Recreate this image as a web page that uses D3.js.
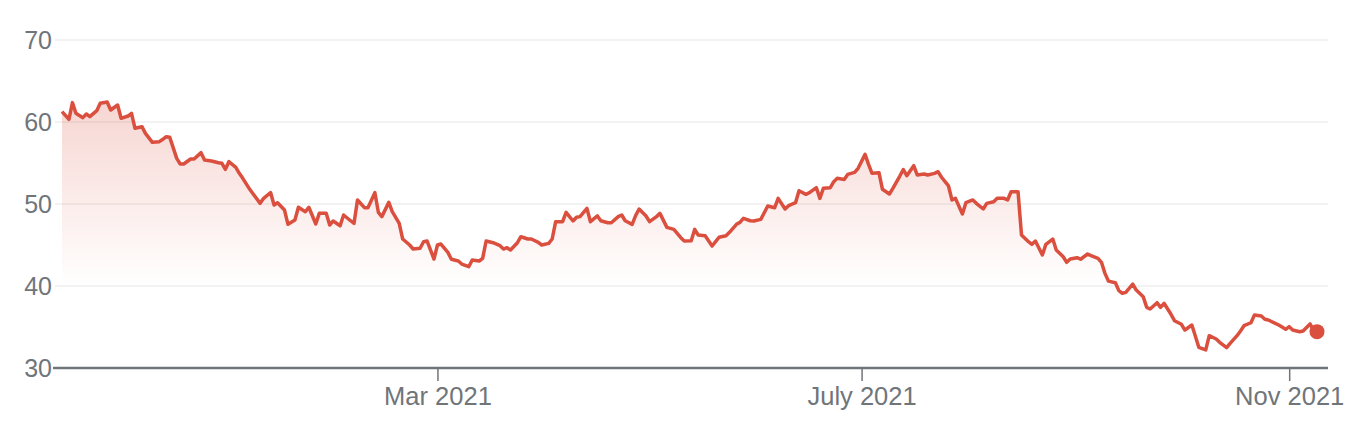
<!DOCTYPE html>
<meta charset="utf-8">
<script src="https://d3js.org/d3.v7.min.js"></script>
<style>
  body { margin: 0; background: #fff; }
  text { font-family: 'Liberation Sans', Arial, sans-serif; }
</style>
<body>
<div id="chart"></div>
<script>

// closing prices
var dates = [
  "2020-11-13","2020-11-15","2020-11-16","2020-11-17","2020-11-19","2020-11-20","2020-11-21","2020-11-23","2020-11-24","2020-11-26",
  "2020-11-27","2020-11-29","2020-11-30","2020-12-02","2020-12-03","2020-12-04","2020-12-06","2020-12-07","2020-12-09","2020-12-11",
  "2020-12-12","2020-12-13","2020-12-14","2020-12-16","2020-12-17","2020-12-18","2020-12-20","2020-12-21","2020-12-23","2020-12-24",
  "2020-12-26","2020-12-28","2020-12-29","2020-12-30","2020-12-31","2021-01-02","2021-01-03","2021-01-04","2021-01-06","2021-01-07",
  "2021-01-09","2021-01-10","2021-01-12","2021-01-13","2021-01-14","2021-01-16","2021-01-17","2021-01-19","2021-01-20","2021-01-22",
  "2021-01-23","2021-01-25","2021-01-26","2021-01-28","2021-01-29","2021-01-30","2021-02-01","2021-02-02","2021-02-04","2021-02-05",
  "2021-02-06","2021-02-08","2021-02-09","2021-02-11","2021-02-12","2021-02-13","2021-02-15","2021-02-16","2021-02-18","2021-02-19",
  "2021-02-21","2021-02-22","2021-02-24","2021-02-25","2021-02-26","2021-02-28","2021-03-01","2021-03-02","2021-03-04","2021-03-05",
  "2021-03-07","2021-03-08","2021-03-10","2021-03-11","2021-03-13","2021-03-14","2021-03-15","2021-03-17","2021-03-19","2021-03-20",
  "2021-03-21","2021-03-22","2021-03-24","2021-03-25","2021-03-27","2021-03-28","2021-03-30","2021-03-31","2021-04-02","2021-04-03",
  "2021-04-04","2021-04-06","2021-04-07","2021-04-09","2021-04-10","2021-04-11","2021-04-13","2021-04-14","2021-04-16","2021-04-17",
  "2021-04-19","2021-04-20","2021-04-22","2021-04-23","2021-04-24","2021-04-26","2021-04-27","2021-04-28","2021-04-30","2021-05-01",
  "2021-05-03","2021-05-04","2021-05-06","2021-05-07","2021-05-08","2021-05-10","2021-05-11","2021-05-13","2021-05-14","2021-05-15",
  "2021-05-17","2021-05-19","2021-05-20","2021-05-21","2021-05-23","2021-05-24","2021-05-26","2021-05-27","2021-05-28","2021-05-30",
  "2021-05-31","2021-06-02","2021-06-03","2021-06-04","2021-06-06","2021-06-07","2021-06-09","2021-06-10","2021-06-12","2021-06-13",
  "2021-06-15","2021-06-16","2021-06-18","2021-06-19","2021-06-20","2021-06-22","2021-06-23","2021-06-24","2021-06-26","2021-06-27",
  "2021-06-29","2021-06-30","2021-07-02","2021-07-03","2021-07-04","2021-07-06","2021-07-07","2021-07-09","2021-07-10","2021-07-12",
  "2021-07-13","2021-07-14","2021-07-16","2021-07-17","2021-07-19","2021-07-20","2021-07-22","2021-07-23","2021-07-24","2021-07-26",
  "2021-07-27","2021-07-28","2021-07-30","2021-07-31","2021-08-02","2021-08-03","2021-08-05","2021-08-06","2021-08-08","2021-08-09",
  "2021-08-11","2021-08-12","2021-08-13","2021-08-15","2021-08-16","2021-08-18","2021-08-19","2021-08-20","2021-08-22","2021-08-23",
  "2021-08-25","2021-08-26","2021-08-28","2021-08-29","2021-08-30","2021-09-01","2021-09-02","2021-09-04","2021-09-05","2021-09-07",
  "2021-09-08","2021-09-09","2021-09-10","2021-09-12","2021-09-13","2021-09-14","2021-09-15","2021-09-17","2021-09-18","2021-09-20",
  "2021-09-21","2021-09-22","2021-09-24","2021-09-25","2021-09-26","2021-09-28","2021-09-29","2021-10-01","2021-10-02","2021-10-04",
  "2021-10-05","2021-10-06","2021-10-08","2021-10-09","2021-10-11","2021-10-12","2021-10-14","2021-10-15","2021-10-17","2021-10-18",
  "2021-10-19","2021-10-21","2021-10-22","2021-10-24","2021-10-25","2021-10-26","2021-10-28","2021-10-29","2021-10-31","2021-11-01",
  "2021-11-02","2021-11-04","2021-11-05","2021-11-07","2021-11-08","2021-11-09"
]

var prices = [
  61.26,60.33,62.36,61.06,60.53,60.98,60.65,61.38,62.28,62.44,
  61.46,62.07,60.45,60.73,61.06,59.23,59.43,58.62,57.52,57.60,
  57.89,58.21,58.13,55.57,54.88,54.88,55.49,55.49,56.26,55.37,
  55.24,55.04,54.96,54.23,55.16,54.48,53.74,53.13,51.79,51.22,
  50.08,50.69,51.40,49.88,50.16,49.27,47.52,48.05,49.60,49.06,
  49.60,47.56,48.86,48.86,47.44,47.93,47.35,48.66,47.96,47.64,
  50.49,49.55,49.55,51.38,48.99,48.46,50.20,49.06,47.64,45.73,
  45.00,44.51,44.60,45.40,45.49,43.29,45.00,45.12,44.10,43.26,
  43.05,42.68,42.35,43.17,43.05,43.37,45.49,45.28,44.92,44.51,
  44.67,44.39,45.28,46.01,45.73,45.73,45.33,45.00,45.20,45.73,
  47.84,47.84,48.99,47.93,48.38,48.46,49.47,47.84,48.54,47.96,
  47.72,47.72,48.46,48.66,47.96,47.52,48.58,49.39,48.54,47.84,
  48.46,48.86,47.15,47.03,46.91,45.89,45.49,45.52,46.91,46.22,
  46.13,44.88,45.40,45.94,46.13,46.55,47.52,47.76,48.25,47.96,
  47.93,48.13,48.94,49.76,49.55,50.69,49.39,49.80,50.16,51.62,
  51.18,51.38,51.99,50.69,51.91,51.99,52.72,53.13,53.00,53.61,
  53.85,54.35,56.05,54.84,53.74,53.82,51.79,51.22,51.91,53.41,
  54.21,53.45,54.67,53.54,53.66,53.54,53.74,53.94,53.26,52.20,
  50.49,50.69,48.78,50.16,50.49,50.08,49.39,50.08,50.28,50.69,
  50.69,50.49,51.50,51.50,46.22,45.40,45.08,45.49,43.78,45.08,
  45.73,44.39,43.57,42.89,43.29,43.45,43.26,43.90,43.70,43.37,
  42.89,41.54,40.60,40.40,39.43,39.11,39.23,40.24,39.51,38.70,
  37.40,37.20,37.96,37.40,37.89,36.55,35.77,35.33,34.63,35.24,
  33.90,32.52,32.20,33.94,33.54,33.13,32.48,33.00,33.94,34.51,
  35.16,35.52,36.46,36.34,35.94,35.85,35.45,35.24,34.72,35.04,
  34.63,34.43,34.51,35.37,34.63,34.43
]

var yTicks = [30, 40, 50, 60, 70]
var xTickDates = ["2021-03-01", "2021-07-01", "2021-11-01"]
var xTickLabels = ["Mar 2021", "July 2021", "Nov 2021"]

var width = 1372,
    height = 430,
    plotLeft = 53,
    plotRight = 1328,
    plotTop = 40,
    plotBottom = 368

var lineColor = "#da4f3e",
    textColor = "#70757a"

var parse = d3.timeParse("%Y-%m-%d")
var data = dates.map(function(d, i) { return { date: parse(d), value: prices[i] } })

var svg = d3.select("#chart")
  .append("svg")
    .attr("width", width)
    .attr("height", height)

var x = d3.scaleTime()
  .domain(d3.extent(data, function(d) { return d.date }))
  .range([plotLeft + 9, plotRight - 11])

var y = d3.scaleLinear()
  .domain([30, 70])
  .range([plotBottom, plotTop])

var grad = svg.append("defs")
  .append("linearGradient")
    .attr("id", "fade")
    .attr("gradientUnits", "userSpaceOnUse")
    .attr("x1", 0).attr("x2", 0)
    .attr("y1", y(63)).attr("y2", y(40))
grad.append("stop").attr("offset", 0).attr("stop-color", lineColor).attr("stop-opacity", 0.24)
grad.append("stop").attr("offset", 1).attr("stop-color", lineColor).attr("stop-opacity", 0)

// gridlines
svg.selectAll("grid")
  .data(yTicks.slice(1))
  .enter()
  .append("line")
    .attr("x1", plotLeft + 2)
    .attr("x2", plotRight)
    .attr("y1", function(d) { return y(d) })
    .attr("y2", function(d) { return y(d) })
    .attr("stroke", "#f2f2f2")
    .attr("stroke-width", 2)

svg.selectAll("ylabels")
  .data(yTicks)
  .enter()
  .append("text")
    .attr("x", plotLeft - 1)
    .attr("y", function(d) { return y(d) })
    .attr("dy", "0.36em")
    .attr("text-anchor", "end")
    .attr("fill", textColor)
    .style("font-size", "25px")
    .text(function(d) { return d })

var area = d3.area()
  .x(function(d) { return x(d.date) })
  .y0(y(40))
  .y1(function(d) { return y(d.value) })

svg.append("path")
  .datum(data)
  .attr("d", area)
  .attr("fill", "url(#fade)")

// x axis
var xAxis = d3.axisBottom(x)
  .tickValues(xTickDates.map(parse))
  .tickFormat(function(d, i) { return xTickLabels[i] })
  .tickSize(13)
  .tickPadding(6)

var gx = svg.append("g")
  .attr("transform", "translate(0," + plotBottom + ")")
  .call(xAxis)

gx.select(".domain").remove()
gx.selectAll(".tick line").attr("stroke", textColor).attr("stroke-width", 1.5)
gx.selectAll(".tick text")
  .attr("fill", textColor)
  .style("font-size", "25.5px")
  .style("font-family", "'Liberation Sans', Arial, sans-serif")

svg.append("line")
  .attr("x1", plotLeft)
  .attr("x2", plotRight)
  .attr("y1", plotBottom)
  .attr("y2", plotBottom)
  .attr("stroke", textColor)
  .attr("stroke-width", 2.5)

var line = d3.line()
  .x(function(d) { return x(d.date) })
  .y(function(d) { return y(d.value) })

svg.append("path")
  .datum(data)
  .attr("d", line)
  .attr("fill", "none")
  .attr("stroke", lineColor)
  .attr("stroke-width", 3.5)
  .attr("stroke-linejoin", "round")

var last = data[data.length - 1]
svg.append("circle")
  .attr("cx", x(last.date))
  .attr("cy", y(last.value))
  .attr("r", 7.5)
  .attr("fill", lineColor)

</script>
</body>
